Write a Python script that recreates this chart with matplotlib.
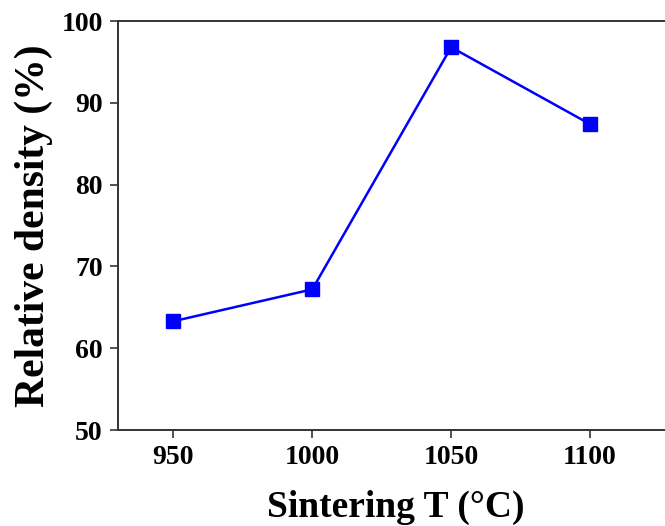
import matplotlib.pyplot as plt

# Sintering temperature vs relative density
temps = [950, 1000, 1050, 1100]
density = [63.3, 67.2, 96.8, 87.4]
x_ticks = [950, 1000, 1050, 1100]
y_ticks = [50, 60, 70, 80, 90, 100]

plt.rcParams['font.family'] = ['Liberation Serif', 'DejaVu Serif']
plt.rcParams['font.weight'] = 'bold'

fig = plt.figure(figsize=(6.65, 5.26), dpi=100)
ax = fig.add_axes([0.1774, 0.1825, 0.835, 0.7775])

ax.plot(temps, density, color='#0000ff', linewidth=1.8,
        marker='s', markersize=10.5, markerfacecolor='#0000ff', markeredgecolor='#0000ff')

ax.set_xlim(930, 1130)
ax.set_ylim(50, 100)
ax.set_xticks(x_ticks)
ax.set_yticks(y_ticks)

for side in ['left', 'bottom', 'top']:
    ax.spines[side].set_color('#333333')
    ax.spines[side].set_linewidth(1.4)
ax.spines['right'].set_visible(False)

ax.tick_params(direction='out', length=6, width=1.2, color='#333333',
               labelsize=20, pad=5)
for lbl in ax.get_xticklabels() + ax.get_yticklabels():
    lbl.set_fontweight('bold')

ax.set_xlabel('Sintering T (\u00b0C)', fontsize=27, fontweight='bold', labelpad=14)
ax.set_ylabel('Relative density (%)', fontsize=30, fontweight='bold', labelpad=6)

fig.savefig('out.png', dpi=100)
